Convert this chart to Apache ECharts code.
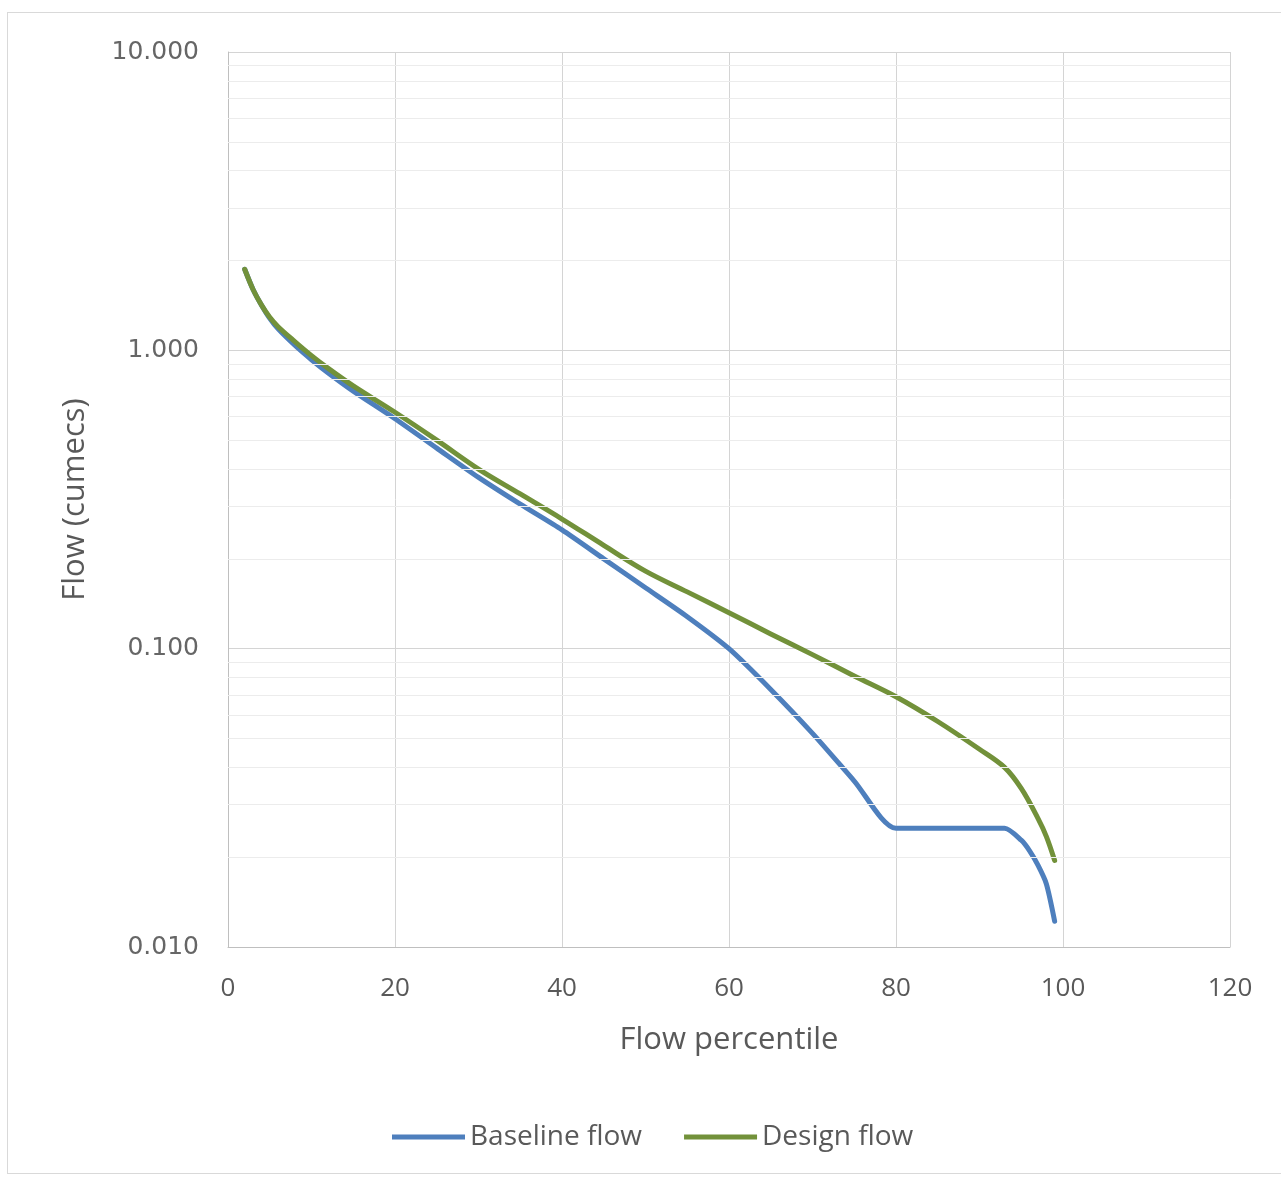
<!DOCTYPE html>
<html>
<head>
<meta charset="utf-8">
<script src="https://cdn.jsdelivr.net/npm/echarts@6/dist/echarts.min.js"></script>
<style>
html,body{margin:0;padding:0;background:#fff;}
#frame{position:absolute;left:7px;top:12px;width:1300px;height:1162px;border:1px solid #d9d9d9;box-sizing:border-box;}
#chart{position:absolute;left:0;top:0;width:1281px;height:1183px;}
</style>
</head>
<body>
<div id="frame"></div>
<div id="chart"></div>
<script>
// Flow percentile (x) values
const baselineX = [2, 3, 4, 5, 6, 8, 10, 12, 15, 20, 25, 30, 35, 40, 45, 50, 55, 60, 65, 70, 75, 80, 85, 90, 93, 95, 96, 97, 98, 99];
const baselineY = [1.87, 1.6, 1.42, 1.28, 1.18, 1.04, 0.93, 0.84, 0.73, 0.59, 0.47, 0.375, 0.305, 0.25, 0.2, 0.16, 0.128, 0.1, 0.073, 0.052, 0.036, 0.025, 0.025, 0.025, 0.025, 0.0228, 0.021, 0.0188, 0.0163, 0.0122];

const designX = [2, 3, 4, 5, 6, 8, 10, 12, 15, 20, 25, 30, 35, 40, 45, 50, 55, 60, 65, 70, 75, 80, 85, 90, 93, 95, 97, 98, 99];
const designY = [1.87, 1.6, 1.42, 1.29, 1.2, 1.07, 0.96, 0.87, 0.76, 0.62, 0.5, 0.4, 0.33, 0.272, 0.222, 0.182, 0.155, 0.132, 0.112, 0.0955, 0.081, 0.069, 0.057, 0.046, 0.04, 0.034, 0.027, 0.0235, 0.0195];

const seriesNames = ['Baseline flow', 'Design flow'];
const xTicks = [0, 20, 40, 60, 80, 100, 120];
const yTicks = [0.01, 0.1, 1, 10];
const minorGrid = [0.02, 0.03, 0.04, 0.05, 0.06, 0.07, 0.08, 0.09, 0.2, 0.3, 0.4, 0.5, 0.6, 0.7, 0.8, 0.9, 2, 3, 4, 5, 6, 7, 8, 9];

const chart = echarts.init(document.getElementById('chart'), null, {renderer: 'canvas'});
const pair = (xs, ys) => xs.map((x, i) => [x, ys[i]]);

chart.setOption({
  backgroundColor: 'transparent',
  animation: false,
  grid: {left: 228, right: 51, top: 52, bottom: 236, containLabel: false},
  legend: {
    data: seriesNames,
    bottom: 27,
    left: 387,
    icon: 'rect',
    itemWidth: 73,
    itemHeight: 5,
    itemGap: 42,
    textStyle: {fontFamily: 'Open Sans', fontSize: 28, color: '#595959'}
  },
  xAxis: {
    type: 'value',
    min: xTicks[0],
    max: xTicks[xTicks.length - 1],
    interval: 20,
    name: 'Flow percentile',
    nameLocation: 'middle',
    nameGap: 78,
    nameTextStyle: {fontFamily: 'Open Sans', fontSize: 31, color: '#595959'},
    axisLine: {lineStyle: {color: '#bfbfbf', width: 1}},
    axisTick: {show: false},
    axisLabel: {fontFamily: 'Open Sans', fontSize: 26, color: '#595959', margin: 29},
    splitLine: {show: true, lineStyle: {color: '#d4d4d4', width: 1}}
  },
  yAxis: {
    type: 'log',
    logBase: 10,
    min: yTicks[0],
    max: yTicks[yTicks.length - 1],
    name: 'Flow (cumecs)',
    nameLocation: 'middle',
    nameGap: 137,
    nameTextStyle: {fontFamily: 'Open Sans', fontSize: 31, color: '#595959'},
    axisLine: {show: true, lineStyle: {color: '#bfbfbf', width: 1}},
    axisTick: {show: false},
    axisLabel: {fontFamily: 'DejaVu Sans', fontSize: 25, color: '#666666', margin: 29,
      formatter: v => Number(v).toFixed(3)},
    splitLine: {show: true, lineStyle: {color: '#d4d4d4', width: 1}}
  },
  series: [
    {
      type: 'line',
      data: [],
      silent: true,
      z: 1,
      markLine: {
        silent: true,
        symbol: 'none',
        label: {show: false},
        lineStyle: {color: '#ececec', width: 1, type: 'solid'},
        data: minorGrid.map(v => ({yAxis: v}))
      }
    },
    {
      name: seriesNames[0],
      type: 'line',
      data: pair(baselineX, baselineY),
      smooth: 0.25,
      showSymbol: false,
      symbol: 'none',
      z: 3,
      lineStyle: {color: '#4e7fbd', width: 5, cap: 'round', join: 'round'},
      itemStyle: {color: '#4e7fbd'}
    },
    {
      name: seriesNames[1],
      type: 'line',
      data: pair(designX, designY),
      smooth: 0.35,
      showSymbol: false,
      symbol: 'none',
      z: 4,
      lineStyle: {color: '#72913a', width: 5, cap: 'round', join: 'round'},
      itemStyle: {color: '#72913a'}
    }
  ]
});
</script>
</body>
</html>
